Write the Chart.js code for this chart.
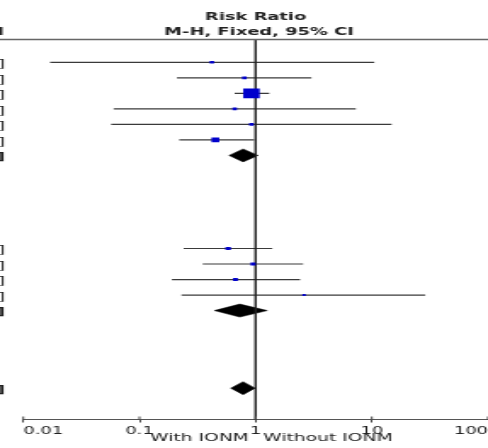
<!DOCTYPE html>
<html>
<head>
<meta charset="utf-8">
<script src="https://cdn.jsdelivr.net/npm/chart.js@4.4.1/dist/chart.umd.min.js"></script>
<style>
  html, body { margin: 0; padding: 0; background: #fff; overflow: hidden; }
  #wrap { width: 488px; height: 448px; overflow: hidden; }
  /* the reference is a horizontally stretched plot, so the canvas is stretched the same way */
  #forest { display: block; transform: scaleX(1.7003); transform-origin: 0 0; }
</style>
</head>
<body>
<div id="wrap"><canvas id="forest" width="287" height="448"></canvas></div>
<script>
// subgroup 1: risk ratio, 95% CI, weight (%)
const group1Est = [0.42, 0.80, 0.92, 0.66, 0.92, 0.45];
const group1Low = [0.017, 0.21, 0.66, 0.060, 0.057, 0.22];
const group1High = [10.5, 3.02, 1.31, 7.28, 14.8, 0.97];
const group1Weight = [4.3, 4.8, 60, 4.3, 4.5, 13.5];
const subtotal1 = [0.78, 0.59, 1.05];

// subgroup 2
const group2Est = [0.58, 0.95, 0.67, 2.61];
const group2Low = [0.24, 0.35, 0.19, 0.23];
const group2High = [1.39, 2.56, 2.41, 28.8];
const group2Weight = [6.5, 5.8, 5.2, 2.3];
const subtotal2 = [0.73, 0.44, 1.26];

// total
const overall = [0.78, 0.61, 0.99];

const tickValues = [0.01, 0.1, 1, 10, 100];
const leftLabel = 'With IONM';
const rightLabel = 'Without IONM';

// row layout of the table
const g1Start = 0, g2Start = 12, totalRow = 21;
const yMin = -1.47, yMax = 23.02;

const studies = [];
group1Est.forEach((e, i) => studies.push({row: g1Start + i, est: e, lo: group1Low[i], hi: group1High[i], w: group1Weight[i]}));
group2Est.forEach((e, i) => studies.push({row: g2Start + i, est: e, lo: group2Low[i], hi: group2High[i], w: group2Weight[i]}));

const pooled = [
  {row: g1Start + group1Est.length, v: subtotal1},
  {row: g2Start + group2Est.length, v: subtotal2},
  {row: totalRow, v: overall}
];

const fmt = v => v.toFixed(2);
const halfH = 0.42;

const datasets = [];
// weighted squares
datasets.push({
  data: studies.map(s => ({x: s.est, y: s.row})),
  pointStyle: 'rect',
  pointRadius: c => 1.25 * Math.sqrt(studies[c.dataIndex].w) / Math.SQRT2,
  backgroundColor: '#0000cc',
  borderWidth: 0
});
// line of no effect
datasets.push({
  data: [{x: 1, y: yMin}, {x: 1, y: yMax}],
  showLine: true, pointRadius: 0, borderColor: '#222', borderWidth: 1
});
// confidence intervals
studies.forEach(s => datasets.push({
  data: [{x: s.lo, y: s.row}, {x: s.hi, y: s.row}],
  showLine: true, pointRadius: 0, borderColor: '#3a3a3a', borderWidth: 1.2
}));
// pooled diamonds
pooled.forEach(p => datasets.push({
  data: [
    {x: p.v[1], y: p.row}, {x: p.v[0], y: p.row - halfH},
    {x: p.v[2], y: p.row}, {x: p.v[0], y: p.row + halfH},
    {x: p.v[1], y: p.row}
  ],
  showLine: true, pointRadius: 0, tension: 0,
  borderColor: '#000', borderWidth: 0.5,
  backgroundColor: '#000', fill: 'shape'
}));

const decor = {
  id: 'decor',
  afterDraw(chart) {
    const {ctx, chartArea: a, scales: {x, y}} = chart;
    const x1 = x.getPixelForValue(1);
    ctx.save();
    ctx.strokeStyle = '#666';
    ctx.lineWidth = 1.5;
    ctx.beginPath();
    ctx.moveTo(0, a.top);
    ctx.lineTo(chart.width, a.top);
    ctx.stroke();
    // tick marks cross the axis line
    ctx.strokeStyle = '#444';
    ctx.lineWidth = 1;
    x.ticks.forEach(t => {
      const px = x.getPixelForValue(t.value);
      ctx.beginPath();
      ctx.moveTo(px, a.bottom - 3);
      ctx.lineTo(px, a.bottom);
      ctx.stroke();
    });

    ctx.fillStyle = '#222';
    ctx.font = 'bold 10.5px "DejaVu Sans"';
    ctx.textAlign = 'center';
    ctx.textBaseline = 'alphabetic';
    ctx.fillText('Risk Ratio', x1, 20);
    ctx.fillText('M-H, Fixed, 95% CI', x1 + 2, 35);
    ctx.textAlign = 'right';
    ctx.fillText('M-H, Fixed, 95% CI', 2.5, 35);

    // the CI column of the table, cut off at the left edge
    ctx.textBaseline = 'middle';
    ctx.font = '11px "DejaVu Sans"';
    studies.forEach(s => {
      ctx.fillText(fmt(s.est) + ' [' + fmt(s.lo) + ', ' + fmt(s.hi) + ']', 3, y.getPixelForValue(s.row) + 2);
    });
    ctx.font = 'bold 11px "DejaVu Sans"';
    pooled.forEach(p => {
      ctx.fillText(fmt(p.v[0]) + ' [' + fmt(p.v[1]) + ', ' + fmt(p.v[2]) + ']', 3, y.getPixelForValue(p.row) + 2);
    });

    ctx.font = '11px "DejaVu Sans"';
    ctx.textBaseline = 'alphabetic';
    ctx.textAlign = 'right';
    ctx.fillText(leftLabel, x1 - 4, 441);
    ctx.textAlign = 'left';
    ctx.fillText(rightLabel, x1 + 4.5, 441);
    ctx.restore();
  }
};

new Chart(document.getElementById('forest'), {
  type: 'scatter',
  data: {datasets},
  plugins: [decor],
  options: {
    responsive: false,
    animation: false,
    events: [],
    layout: {autoPadding: false, padding: {left: 13.7, right: 0, top: 39.5, bottom: 0}},
    plugins: {legend: {display: false}, tooltip: {enabled: false}},
    scales: {
      x: {
        type: 'logarithmic',
        min: 0.01,
        max: 100,
        afterBuildTicks: s => { s.ticks = tickValues.map(v => ({value: v})); },
        afterFit: s => { s.height = 28.5; s.paddingLeft = 0; s.paddingRight = 0; },
        border: {display: true, color: '#555', width: 1},
        grid: {drawOnChartArea: false, drawTicks: true, tickLength: 3, color: '#444', lineWidth: 1},
        ticks: {
          align: 'inner', padding: 2, maxRotation: 0, autoSkip: false,
          color: '#222', font: {family: 'DejaVu Sans', size: 10.5},
          callback: v => String(v)
        }
      },
      y: {type: 'linear', display: false, reverse: true, min: yMin, max: yMax}
    }
  }
});
</script>
</body>
</html>
